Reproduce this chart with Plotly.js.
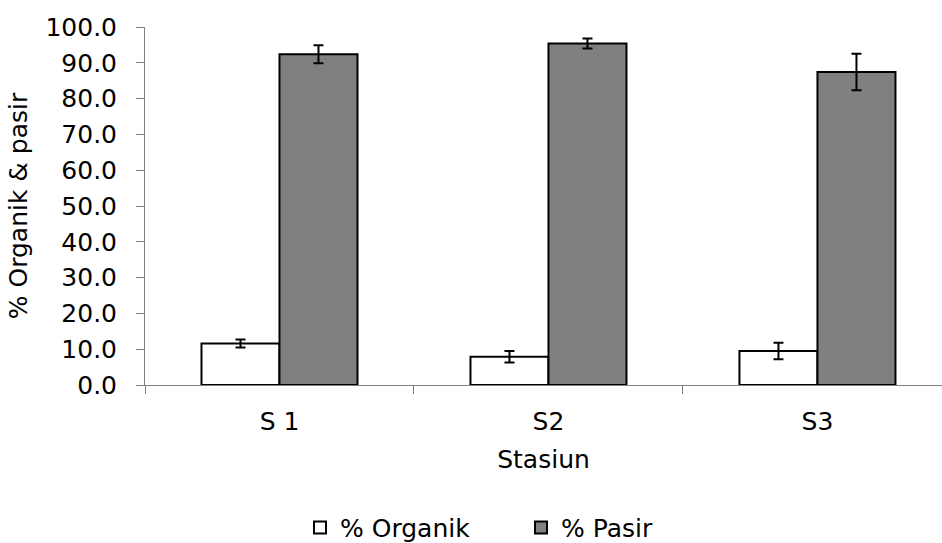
<!DOCTYPE html>
<html>
<head>
<meta charset="utf-8">
<script src="https://cdn.plot.ly/plotly-3.0.1.min.js"></script>
<style>html,body{margin:0;padding:0;background:#fff;}#chart{width:942px;height:543px;}</style>
</head>
<body>
<div id="chart"></div>
<script>
const categories = ["S 1", "S2", "S3"];
const organik = [11.6, 7.9, 9.5];
const organikErr = [1.1, 1.6, 2.3];
const pasir = [92.4, 95.4, 87.4];
const pasirErr = [2.5, 1.4, 5.1];
const yTicks = [0, 10, 20, 30, 40, 50, 60, 70, 80, 90, 100];

const font = {family: "DejaVu Sans, sans-serif", size: 25, color: "#000"};

const traces = [
  {
    type: "bar", name: "% Organik", x: categories, y: organik,
    marker: {color: "#ffffff", line: {color: "#000", width: 2}},
    error_y: {type: "data", array: organikErr, visible: true, color: "#000", thickness: 2, width: 5}
  },
  {
    type: "bar", name: "% Pasir", x: categories, y: pasir,
    marker: {color: "#808080", line: {color: "#000", width: 2}},
    error_y: {type: "data", array: pasirErr, visible: true, color: "#000", thickness: 2, width: 5}
  }
];

const layout = {
  width: 942, height: 543,
  margin: {l: 145, r: 0, t: 27, b: 158},
  paper_bgcolor: "#fff", plot_bgcolor: "#fff",
  font: font,
  barmode: "group", bargap: 0.42, bargroupgap: 0,
  showlegend: true,
  legend: {
    orientation: "h", xref: "container", yref: "container",
    x: 0.3185, xanchor: "left", y: 0.028, yanchor: "middle",
    entrywidthmode: "pixels", entrywidth: 176,
    font: font, itemclick: false, traceorder: "normal"
  },
  xaxis: {
    type: "category", range: [-0.5, 2.463],
    showline: true, linecolor: "#808080", linewidth: 1,
    ticks: "outside", tickson: "boundaries", ticklen: 8, tickcolor: "#808080",
    ticklabelstandoff: 14,
    showgrid: false, zeroline: false,
    tickfont: font,
    title: {text: "Stasiun", font: font, standoff: 15}
  },
  yaxis: {
    range: [0, 100], tickvals: yTicks,
    ticktext: yTicks.map(v => v.toFixed(1)),
    showline: true, linecolor: "#808080", linewidth: 1,
    ticks: "outside", ticklen: 8, tickcolor: "#808080",
    ticklabelstandoff: 14,
    showgrid: false, zeroline: false,
    tickfont: font,
    title: {text: "% Organik & pasir", font: font, standoff: 10}
  }
};

Plotly.newPlot("chart", traces, layout, {staticPlot: true, displayModeBar: false});
</script>
</body>
</html>
